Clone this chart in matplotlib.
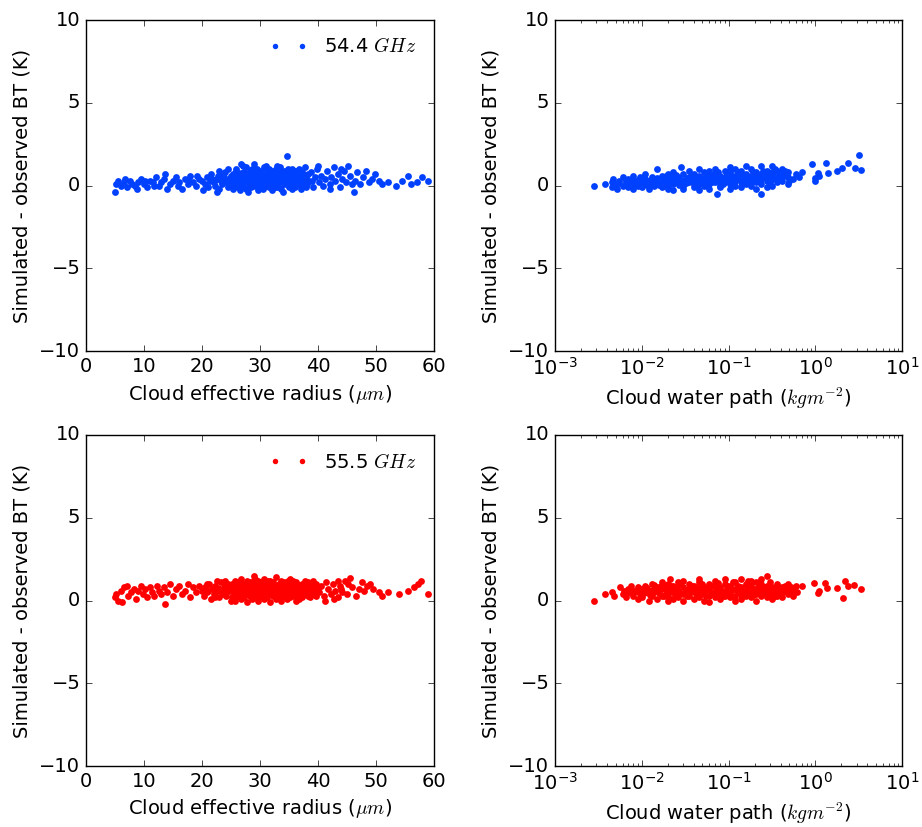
import matplotlib
matplotlib.use("Agg")
import matplotlib.pyplot as plt

plt.style.use("classic")
plt.rcParams["font.family"] = ["DejaVu Sans"]
plt.rcParams["mathtext.fontset"] = "cm"
plt.rcParams["font.size"] = 12

# ---------------- data ----------------
channels = ["54.4", "55.5"]
colors = ["#0040ff", "#ff0000"]

# 54.4 GHz : (cloud effective radius [um], simulated - observed BT [K])
radius_544 = [
    (5.0,-0.4),(5.2,0.1),(5.5,0.3),(6.0,0.0),(6.5,0.2),(6.8,0.4),(7.0,-0.1),(7.5,0.3),
    (8.0,0.1),(8.5,0.0),(8.8,-0.2),(9.0,0.2),(9.5,0.4),(10.0,0.1),(10.2,0.3),(10.5,-0.1),
    (11.0,0.3),(11.5,0.2),(11.8,0.0),(12.0,0.5),(12.5,0.0),(13.0,0.2),(13.5,0.4),(13.6,0.7),
    (14.0,-0.2),(14.5,0.1),(15.0,0.3),(15.5,0.5),(15.8,0.0),(16.0,0.2),(16.5,-0.2),(17.0,0.4),
    (17.5,0.1),(17.8,0.3),(18.0,0.6),(18.5,0.2),(19.0,0.0),(19.2,0.6),(19.5,0.4),(20.0,0.3),
    (20.2,-0.3),(20.5,0.1),(20.8,0.5),(21.0,-0.1),(21.3,0.3),(21.6,0.7),(21.8,0.4),(22.0,0.2),
    (22.2,0.0),(22.5,0.4),(22.6,-0.4),(22.8,0.6),(23.0,-0.2),(23.0,0.9),(23.2,0.3),(23.5,0.1),
    (23.8,0.5),(24.0,0.8),(24.2,0.2),(24.4,1.0),(24.5,-0.1),(24.7,0.4),(24.9,0.3),(25.0,0.6),
    (25.0,0.0),
    (25.3,-0.2),(25.6,0.3),(25.4,0.7),(25.8,1.0),(26.1,0.1),(26.3,0.5),(25.9,0.9),(26.2,-0.1),
    (26.6,0.2),(26.4,0.6),(26.7,1.3),(26.5,-0.3),(27.1,0.0),(26.9,0.4),(27.2,0.8),(27.0,1.2),
    (27.6,-0.2),(27.4,0.3),(27.7,0.7),(27.5,1.1),(28.1,0.1),(27.9,0.5),(28.2,0.9),(28.0,-0.4),
    (28.6,0.2),(28.4,0.6),(28.7,1.0),(28.5,-0.1),(29.1,0.0),(28.9,0.4),(29.2,0.8),(29.0,1.3),
    (29.6,-0.3),(29.4,0.3),(29.7,0.7),(29.5,1.0),(30.1,0.1),(29.9,0.5),(30.2,0.9),(30.0,-0.1),
    (30.6,0.2),(30.4,0.6),(30.7,1.1),(30.5,-0.2),(31.1,0.0),(30.9,0.4),(31.2,0.8),(31.0,1.2),
    (31.6,-0.1),(31.4,0.3),(31.7,0.7),(31.5,1.0),(32.1,0.1),(31.9,0.5),(32.2,0.9),(32.0,-0.3),
    (32.6,0.2),(32.4,0.6),(32.7,1.0),(32.5,-0.1),(33.1,0.0),(32.9,0.4),(33.2,0.8),(33.0,1.2),
    (33.6,-0.2),(33.4,0.3),(33.7,0.7),(33.5,1.1),(34.1,0.1),(33.9,0.5),(34.2,0.9),(34.0,-0.4),
    (34.6,0.2),(34.4,0.6),(34.8,1.0),(34.7,1.8),(35.1,0.0),(34.9,0.4),(35.2,0.8),(35.0,-0.1),
    (35.6,-0.2),(35.4,0.3),(35.7,0.7),(35.5,1.0),(36.1,0.1),(35.9,0.5),(36.2,0.9),(36.0,-0.1),
    (36.6,0.2),(36.4,0.6),(36.7,1.0),(37.1,0.0),(36.9,0.4),(37.2,0.8),(37.0,-0.2),
    (37.6,0.3),(37.4,0.7),(37.7,1.1),(38.1,0.1),(37.9,0.5),(38.0,-0.1),
    (25.5,0.15),(26.5,0.35),(27.3,0.55),(28.3,0.25),(29.3,0.45),(30.3,0.15),(30.8,0.65),
    (31.3,0.25),(31.8,0.45),(32.3,0.35),(32.8,0.15),(33.3,0.55),(33.8,0.25),(34.3,0.45),
    (34.5,0.75),(35.3,0.15),(35.8,0.35),(36.3,0.25),(36.8,0.55),(37.3,0.35),
    (25.2,0.45),(25.7,0.6),(26.0,0.25),(26.8,0.75),(27.0,0.15),(27.8,0.4),(28.0,0.65),
    (28.8,0.1),(29.0,0.6),(29.8,0.25),(30.0,0.75),(30.8,0.0),(31.0,0.55),(31.8,0.85),
    (32.0,0.3),(32.8,0.6),(33.0,-0.1),(33.8,0.75),(34.0,0.35),(34.8,0.05),(35.0,0.6),
    (35.8,0.85),(36.0,0.3),(36.8,0.1),(37.0,0.6),(37.8,0.25),(38.3,0.7),(39.0,0.3),
    (23.5,0.55),(24.5,0.2),
    (38.4,0.3),(38.8,0.8),(39.1,-0.1),(39.5,0.5),(39.8,1.0),(40.0,1.2),(40.2,0.2),(40.5,0.6),
    (40.9,0.0),(41.2,0.4),(41.6,0.9),(42.0,0.1),(42.0,-0.2),(42.3,0.5),(42.7,1.1),(43.0,0.3),
    (43.4,0.7),(43.8,-0.1),(44.0,1.0),(44.1,0.4),(44.5,0.9),(44.8,0.2),(45.2,1.2),(45.5,0.6),
    (45.8,0.1),
    (46.2,-0.4),(46.3,0.3),(46.8,0.8),(47.2,0.1),(47.8,0.5),(48.3,0.9),(48.8,0.2),(49.3,0.4),
    (49.8,0.7),(50.5,0.3),(51.0,0.1),(52.0,0.2),(53.5,0.0),(54.5,0.3),(55.5,0.6),(56.0,0.1),
    (57.0,0.2),(58.0,0.5),(59.0,0.3),
]

# 54.4 GHz : (cloud water path [kg m-2], simulated - observed BT [K])
cwp_544 = [
    (0.0028,0.0),(0.0038,0.1),(0.0045,0.2),(0.0045,-0.1),(0.0047,0.4),(0.005,0.1),(0.0052,-0.2),
    (0.0055,0.3),(0.006,0.0),(0.006,0.5),(0.0065,0.2),(0.007,-0.1),(0.007,0.4),(0.0075,0.1),
    (0.008,0.6),(0.008,-0.2),(0.0085,0.3),(0.009,0.0),(0.0095,0.5),(0.010,0.2),(0.010,-0.1),
    (0.011,0.7),(0.011,0.4),(0.012,0.1),(0.012,-0.2),(0.013,0.5),(0.014,0.3),(0.014,0.0),
    (0.015,1.0),(0.016,0.2),(0.017,0.6),(0.017,-0.1),(0.018,0.4),(0.019,0.1),(0.020,0.7),
    (0.020,-0.2),
    (0.020,-0.1),(0.020,0.3),(0.021,0.6),(0.023,0.1),(0.023,0.4),(0.023,0.8),(0.023,-0.3),
    (0.026,0.2),(0.026,0.5),(0.028,1.1),(0.030,0.0),(0.030,0.3),(0.030,0.7),(0.030,-0.2),
    (0.035,0.2),(0.035,0.5),(0.035,0.9),(0.040,-0.1),(0.040,0.4),(0.040,0.7),(0.040,0.1),
    (0.046,0.2),(0.046,0.6),(0.046,1.0),(0.046,-0.3),(0.052,0.0),(0.052,0.3),(0.052,0.8),
    (0.060,0.1),(0.060,0.5),(0.060,0.9),(0.060,-0.2),(0.069,0.2),(0.069,0.4),(0.069,0.7),
    (0.069,1.0),(0.074,-0.5),(0.079,0.0),(0.079,0.3),(0.079,0.6),(0.079,-0.1),(0.091,0.2),
    (0.091,0.5),(0.091,0.9),(0.105,0.1),(0.105,0.4),(0.105,0.8),(0.105,1.1),(0.105,-0.2),
    (0.120,0.0),(0.120,0.3),(0.120,0.6),(0.120,1.0),(0.138,0.2),(0.138,0.5),(0.138,0.9),
    (0.138,-0.1),(0.158,0.1),(0.158,0.4),(0.158,0.7),(0.158,1.2),(0.182,0.0),(0.182,0.3),
    (0.182,0.6),(0.182,1.0),(0.209,0.2),(0.209,0.5),(0.209,0.8),(0.209,-0.2),(0.240,0.1),
    (0.240,0.4),(0.240,0.7),(0.240,1.2),(0.235,-0.5),(0.275,0.3),(0.275,0.6),(0.275,0.9),
    (0.275,-0.1),(0.316,0.0),(0.316,0.4),(0.316,0.8),(0.316,1.2),(0.363,0.2),(0.363,0.5),
    (0.363,0.9),(0.417,0.3),(0.417,0.6),(0.417,1.0),(0.479,0.1),(0.479,0.5),(0.479,0.8),
    (0.55,0.4),(0.60,0.7),(0.65,0.5),
    (0.0055,0.15),(0.0065,0.35),(0.0075,0.25),(0.0085,0.05),(0.009,0.35),(0.0105,0.25),
    (0.0115,0.05),(0.0125,0.35),(0.0135,0.15),(0.015,0.45),(0.016,0.05),(0.018,0.25),
    (0.019,0.55),(0.021,0.15),(0.022,0.45),(0.024,0.25),(0.025,0.65),(0.027,0.05),
    (0.028,0.35),(0.032,0.15),(0.033,0.45),(0.037,0.25),(0.038,0.6),(0.043,0.35),
    (0.044,0.05),(0.049,0.45),(0.050,0.15),(0.055,0.6),(0.056,0.3),(0.064,0.2),(0.065,0.65),
    (0.072,0.35),(0.075,0.8),(0.085,0.45),(0.087,0.1),(0.097,0.7),(0.098,0.3),(0.11,0.55),
    (0.113,0.2),(0.128,0.8),(0.13,0.4),(0.145,0.65),(0.148,0.3),(0.165,0.55),(0.17,0.15),
    (0.19,0.8),(0.195,0.45),(0.22,0.65),(0.225,0.3),(0.25,0.85),(0.26,0.5),(0.29,0.7),
    (0.30,0.2),(0.33,0.6),(0.34,1.0),(0.38,0.4),(0.39,0.75),(0.44,0.55),(0.45,0.9),(0.50,0.3),
    (0.70,0.8),(0.91,1.3),(1.0,0.26),(1.07,0.76),(1.1,0.56),(1.0,0.45),(1.32,1.36),(1.41,0.76),
    (1.8,0.86),(2.04,1.06),(2.4,1.36),(2.9,1.06),(3.2,1.82),(3.4,0.92),
]

# 55.5 GHz : (cloud effective radius [um], simulated - observed BT [K])
radius_555 = [
    (5.0,0.2),(5.1,0.4),(5.5,0.0),(6.0,0.6),(6.2,-0.1),(6.5,0.8),(7.0,0.9),(7.3,0.3),
    (7.8,0.5),(8.2,0.7),(8.6,0.1),(9.0,0.6),(9.4,0.9),(9.8,0.4),(10.2,0.7),(10.6,0.2),
    (11.0,0.8),(11.4,0.5),(11.8,0.3),(12.2,0.9),(12.6,0.6),(13.0,0.4),(13.4,0.8),(13.6,-0.2),
    (14.0,0.5),(14.5,1.0),(15.0,0.3),(15.5,0.7),(16.0,0.9),(16.5,0.4),(17.0,0.6),(17.5,1.0),
    (18.0,0.2),(18.5,0.8),(19.0,0.5),(19.5,0.9),(20.0,0.6),
    (20.3,0.3),(20.6,0.8),(20.9,0.5),(21.2,1.0),(21.5,0.1),(21.8,0.7),(22.0,0.4),(22.3,0.9),
    (22.6,0.6),(22.9,0.2),(23.2,1.1),(23.5,0.5),(23.8,0.8),(24.1,0.3),(24.4,1.0),(24.7,0.6),
    (25.0,0.0),(21.0,0.6),(22.5,1.2),(23.6,0.4),(24.5,0.7),(20.8,1.0),(22.2,0.2),(23.9,1.2),
    (24.8,0.9),
    (25.2,0.2),(25.2,0.6),(25.2,1.0),(25.7,0.4),(25.7,0.8),(25.7,1.2),(25.7,0.0),
    (26.2,0.3),(26.2,0.7),(26.2,1.1),(26.7,0.5),(26.7,0.9),(26.7,0.1),(26.7,1.3),
    (27.2,0.2),(27.2,0.6),(27.2,1.0),(27.7,0.4),(27.7,0.8),(27.7,1.2),(27.7,-0.1),
    (28.2,0.3),(28.2,0.7),(28.2,1.1),(28.7,0.5),(28.7,0.9),(28.7,0.1),(29.0,1.5),
    (29.2,0.2),(29.2,0.6),(29.2,1.0),(29.2,1.3),(29.7,0.4),(29.7,0.8),(29.7,1.2),(29.7,0.0),
    (30.2,0.3),(30.2,0.7),(30.2,1.1),(30.7,0.5),(30.7,0.9),(30.7,0.1),(30.7,1.3),
    (31.2,0.2),(31.2,0.6),(31.2,1.0),(31.7,0.4),(31.7,0.8),(31.7,1.2),(31.7,-0.1),
    (32.2,0.3),(32.2,0.7),(32.2,1.1),(32.7,0.5),(32.7,0.9),(32.7,0.1),(32.7,1.4),
    (33.2,0.2),(33.2,0.6),(33.2,1.0),(33.7,0.4),(33.7,0.8),(33.7,1.2),(33.7,0.0),
    (34.2,0.3),(34.2,0.7),(34.2,1.1),(34.7,0.5),(34.7,0.9),(34.7,0.1),
    (35.2,0.2),(35.2,0.6),(35.2,1.0),(35.2,1.3),(35.7,0.4),(35.7,0.8),(35.7,1.2),
    (36.2,0.3),(36.2,0.7),(36.2,1.1),(36.2,0.0),(36.7,0.5),(36.7,0.9),(36.7,0.1),
    (37.2,0.2),(37.2,0.6),(37.2,1.0),(37.7,0.4),(37.7,0.8),(37.7,1.2),
    (38.2,0.3),(38.2,0.7),(38.2,1.1),(38.7,0.5),(38.7,0.9),(38.7,0.2),
    (39.2,0.4),(39.2,0.8),(39.2,1.2),(39.7,0.6),(39.7,1.0),(39.7,0.3),
    (25.5,0.5),(26.5,0.65),(27.5,0.45),(28.5,0.75),(29.5,0.55),(30.5,0.85),(31.5,0.45),
    (32.5,0.65),(33.5,0.35),(34.5,0.75),(35.5,0.55),(36.5,0.45),(37.5,0.65),(38.5,0.85),
    (25.1,0.75),(25.9,0.55),(26.4,0.95),(26.9,0.35),(27.4,0.8),(27.9,1.0),(28.4,0.55),
    (28.9,1.25),(29.4,0.7),(29.9,0.95),(30.4,0.5),(30.9,0.75),(31.4,1.2),(31.9,0.6),
    (32.4,0.9),(32.9,0.3),(33.4,0.75),(33.9,1.0),(34.4,0.5),(34.9,1.2),(35.4,0.8),
    (35.9,0.3),(36.4,0.95),(36.9,0.7),(37.4,0.4),(37.9,1.0),(38.4,0.55),(38.9,0.7),
    (39.4,0.95),(40.0,0.75),(22.8,0.75),(24.0,0.55),
    (40.2,0.5),(40.6,0.9),(41.0,0.3),(41.4,1.1),(41.8,0.7),(42.2,0.4),(42.6,1.0),(43.0,0.6),
    (43.4,0.2),(43.8,0.9),(44.2,0.5),(44.6,1.2),(45.0,0.4),(45.5,1.35),(45.8,0.8),(41.2,0.0),
    (42.8,0.1),(44.0,0.7),(45.2,1.0),(43.5,1.2),
    (46.5,0.3),(47.0,0.7),(47.5,1.1),(48.0,0.6),(48.5,0.9),(49.0,1.0),(49.5,0.7),(50.5,0.5),
    (51.0,0.3),(52.0,0.5),(54.0,0.4),(55.5,0.6),(56.5,0.8),(57.3,1.0),(57.8,1.2),(59.0,0.4),
]

# 55.5 GHz : (cloud water path [kg m-2], simulated - observed BT [K])
cwp_555 = [
    (0.0028,0.0),(0.0038,0.4),(0.0045,0.5),(0.0048,0.3),(0.0056,0.8),(0.006,0.4),(0.0062,0.6),
    (0.0065,0.2),(0.007,0.7),(0.0072,0.5),(0.0075,0.9),(0.008,0.3),(0.0085,0.6),(0.009,0.1),
    (0.009,0.8),(0.0095,0.4),(0.010,0.7),(0.010,0.2),(0.011,0.5),(0.011,0.9),(0.012,0.0),
    (0.012,0.6),(0.013,0.3),(0.013,1.0),(0.014,0.5),(0.015,0.8),(0.015,0.1),(0.016,0.6),
    (0.017,0.3),(0.017,1.1),(0.018,0.7),(0.019,0.4),(0.021,1.32),(0.020,0.0),
    (0.020,0.3),(0.020,0.7),(0.020,1.0),(0.023,0.5),(0.023,0.9),(0.023,0.1),(0.023,0.7),
    (0.026,0.2),(0.026,0.6),(0.026,1.1),(0.030,0.4),(0.030,0.8),(0.030,0.0),(0.030,1.2),
    (0.035,0.3),(0.035,0.7),(0.035,1.0),(0.040,0.5),(0.040,0.9),(0.040,0.1),(0.040,0.6),
    (0.046,0.2),(0.046,0.6),(0.046,1.1),(0.046,1.3),(0.052,0.4),(0.052,0.8),(0.052,0.0),
    (0.060,0.3),(0.060,0.7),(0.060,1.0),(0.060,-0.1),(0.069,0.5),(0.069,0.9),(0.069,0.2),
    (0.069,1.2),(0.079,0.4),(0.079,0.8),(0.079,0.1),(0.091,0.3),(0.091,0.6),(0.091,1.0),
    (0.091,1.3),(0.105,0.5),(0.105,0.9),(0.105,0.2),(0.105,0.7),(0.120,0.3),(0.120,0.7),
    (0.120,1.1),(0.120,0.0),(0.138,0.4),(0.138,0.8),(0.138,0.1),(0.138,1.3),(0.158,0.3),
    (0.158,0.6),(0.158,1.0),(0.182,0.5),(0.182,0.9),(0.182,0.2),(0.182,1.2),(0.209,0.4),
    (0.209,0.7),(0.209,1.1),(0.209,0.0),(0.240,0.3),(0.240,0.6),(0.240,1.0),(0.240,1.3),
    (0.275,0.5),(0.275,0.9),(0.275,0.2),(0.280,1.5),(0.316,0.4),(0.316,0.8),(0.316,0.1),
    (0.363,0.3),(0.363,0.6),(0.363,1.0),(0.363,0.9),(0.417,0.5),(0.417,0.8),(0.417,0.2),
    (0.479,0.4),(0.479,0.7),(0.479,1.0),(0.55,0.6),(0.55,0.3),(0.60,0.9),(0.62,0.5),
    (0.0068,0.45),(0.0078,0.65),(0.0088,0.55),(0.0105,0.45),(0.0115,0.75),(0.0125,0.35),
    (0.0135,0.65),(0.014,0.95),(0.016,0.45),(0.0165,0.85),(0.018,0.25),(0.019,0.95),
    (0.021,0.55),(0.022,0.85),(0.024,0.35),(0.025,0.65),(0.027,0.95),(0.028,0.45),
    (0.032,0.65),(0.033,0.25),(0.037,0.55),(0.038,0.85),(0.043,0.35),(0.044,0.75),
    (0.049,0.55),(0.050,1.0),(0.055,0.25),(0.056,0.65),(0.064,0.45),(0.065,0.85),
    (0.072,0.6),(0.075,1.05),(0.085,0.55),(0.087,0.25),(0.097,0.85),(0.098,0.45),
    (0.11,0.65),(0.113,1.1),(0.128,0.5),(0.13,0.9),(0.145,0.6),(0.148,0.25),(0.165,0.8),
    (0.17,1.15),(0.19,0.35),(0.195,0.7),(0.22,0.55),(0.225,0.9),(0.25,0.45),(0.26,0.8),
    (0.29,0.6),(0.30,1.1),(0.33,0.5),(0.34,0.25),(0.38,0.75),(0.39,0.4),(0.44,0.6),
    (0.45,0.9),(0.50,0.55),(0.52,0.8),
    (0.71,0.86),(0.98,1.06),(1.07,0.46),(1.10,0.60),(1.30,1.06),(1.35,0.76),(1.8,0.76),
    (2.1,0.16),(2.2,1.16),(2.4,0.86),(2.8,0.96),(3.4,0.70),
]

panel_data = [[radius_544, cwp_544], [radius_555, cwp_555]]

# ---------------- figure ----------------
fig = plt.figure(figsize=(9.22, 8.27), dpi=100, facecolor="white")

col_left = [86 / 922, 555 / 922]
col_w = [(434 - 86) / 922, (902 - 555) / 922]
row_bottom = [1 - 351 / 827, 1 - 766 / 827]
row_h = (351 - 20) / 827

for i, ch in enumerate(channels):
    for j in range(2):
        ax = fig.add_axes([col_left[j], row_bottom[i], col_w[j], row_h])
        ax.set_facecolor("white")
        xs, ys = zip(*panel_data[i][j])
        ax.plot(xs, ys, "o", color=colors[i], markersize=4.9, markeredgewidth=0,
                linestyle="none", label=ch + r" $GHz$")
        ax.set_ylim(-10, 10)
        ax.set_yticks([-10, -5, 0, 5, 10])
        ax.set_ylabel("Simulated - observed BT (K)", fontsize=14, labelpad=6)
        if j == 0:
            ax.set_xlim(0, 60)
            ax.set_xticks([0, 10, 20, 30, 40, 50, 60])
            ax.set_xlabel(r"Cloud effective radius ($\mu m$)", fontsize=14)
            ax.legend(loc="upper right", frameon=False, numpoints=2,
                      markerscale=0.8, fontsize=14, handlelength=2.0,
                      handletextpad=0.86, borderaxespad=0.5)
        else:
            ax.set_xscale("log")
            ax.set_xlim(1e-3, 1e1)
            ax.set_xlabel(r"Cloud water path ($kgm^{-2}$)", fontsize=14)
        ax.tick_params(which="both", direction="in", top=True, right=True,
                       labelsize=14)

fig.savefig("out.png", dpi=100, facecolor="white")
